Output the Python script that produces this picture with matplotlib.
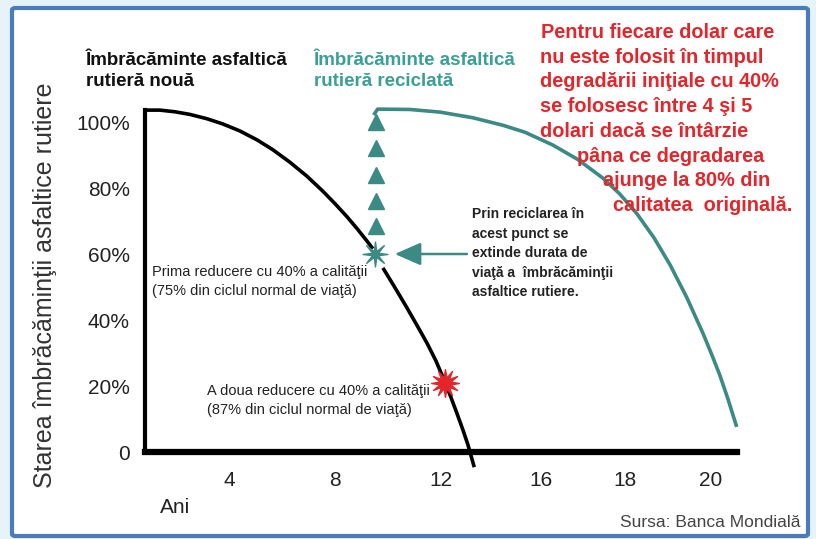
import numpy as np
import matplotlib
matplotlib.use('Agg')
import matplotlib.pyplot as plt
from matplotlib.patches import FancyBboxPatch
from matplotlib.path import Path

plt.rcParams['font.family'] = ['Liberation Sans', 'DejaVu Sans']

# date (ani, % stare)
ani_nou_sus = [0.84, 1.35, 1.92, 2.49, 3.13, 3.74, 4.38, 5.03, 5.63, 6.28,
               6.92, 7.53, 7.98, 8.44, 8.81, 9.19, 9.42]
stare_nou_sus = [103.6, 103.6, 103.1, 102.3, 101.0, 99.4, 97.3, 94.6, 91.6, 87.8,
                 83.6, 79.0, 75.3, 71.3, 67.8, 64.0, 61.6]
ani_nou_jos = [9.80, 10.25, 10.71, 11.09, 11.47, 11.81, 12.15, 12.38, 12.6,
               12.83, 13.02, 13.26]
stare_nou_jos = [55.8, 49.9, 43.7, 38.4, 33.0, 27.6, 21.2, 16.5, 11.8,
                 6.7, 2.2, -4.6]
ani_reciclat = [9.45, 9.6, 10.82, 11.96, 13.2, 14.35, 15.18, 16.24, 17.19, 18.13,
                18.77, 19.42, 20.06, 20.67, 21.31, 21.92, 22.26, 22.56, 22.87, 23.2]
stare_reciclat = [102.1, 103.9, 103.8, 103.0, 101.3, 99.0, 96.9, 93.0, 88.6, 83.0,
                  78.2, 72.2, 65.0, 56.8, 46.8, 36.0, 29.4, 23.3, 16.0, 7.6]
triunghiuri_an = 9.55
triunghiuri_stare = [68.5, 76.0, 84.0, 92.0, 100.0]
punct_reciclare = (9.5, 60)
punct_doi = (12.15, 21.0)

y_ticks = [0, 20, 40, 60, 80, 100]
y_labels = ['0', '20%', '40%', '60%', '80%', '100%']
x_labels = ['4', '8', '12', '16', '18', '20']
x_pos = [4, 8, 12, 15.8, 18.97, 22.2]

red_lines = ['Pentru fiecare dolar care', 'nu este folosit în timpul',
             'degradării iniţiale cu 40%', 'se folosesc între 4 şi 5',
             'dolari dacă se întârzie', 'pâna ce degradarea',
             'ajunge la 80% din', 'calitatea  originală.']
red_x = [541, 540, 540, 540, 540, 577, 603, 613]

W, H = 816, 539
teal = '#3b8a83'
red = '#e3262b'


def px(x, y):
    return x / W, 1 - y / H


fig = plt.figure(figsize=(W / 100, H / 100), dpi=100, facecolor='#e6f3f9')
frame = FancyBboxPatch(px(12, 536), (808 - 12) / W, (536 - 8) / H,
                       boxstyle='round,pad=0,rounding_size=0.004',
                       transform=fig.transFigure, facecolor='white',
                       edgecolor='#4a7cbc', lw=3, zorder=-1)
fig.patches.append(frame)

l, b = px(145, 478.4)
r, t = px(742, 102.2)
ax = fig.add_axes([l, b, r - l, t - b])
ax.set_facecolor('none')
ax.set_xlim(0.79, 23.4)
ax.set_ylim(-8, 106)

for s in ['top', 'right']:
    ax.spines[s].set_visible(False)
ax.spines['left'].set_linewidth(3)
ax.spines['left'].set_bounds(0, 103.6)
ax.spines['bottom'].set_position(('data', 0))
ax.spines['bottom'].set_linewidth(4.5)
ax.spines['bottom'].set_bounds(0.79, 23.2)

ax.set_yticks(y_ticks)
ax.set_yticklabels(y_labels)
ax.set_xticks(x_pos)
ax.set_xticklabels(x_labels)
ax.tick_params(axis='y', length=0, pad=11, labelsize=15, labelcolor='#222')
ax.tick_params(axis='x', length=0, pad=14, labelsize=15, labelcolor='#222')

stil = dict(lw=2.6, solid_capstyle='butt', solid_joinstyle='round')
ax.plot(ani_nou_sus, stare_nou_sus, color='black', **stil)
ax.plot(ani_nou_jos, stare_nou_jos, color='black', clip_on=False, **stil)
ax.plot(ani_reciclat, stare_reciclat, color=teal, **stil)

ax.plot([triunghiuri_an] * len(triunghiuri_stare), triunghiuri_stare, ls='none',
        marker='^', ms=12, color=teal)

stea_verde = Path.unit_regular_star(8, innerCircle=0.25)
stea_rosie = Path.unit_regular_star(12, innerCircle=0.4)
ax.plot(*punct_reciclare, marker=stea_verde, ms=18, color=teal, zorder=5)
ax.plot(*punct_doi, marker=stea_rosie, ms=20, color=red, zorder=5)

ax.annotate('', xy=(10.25, 60), xytext=(12.98, 60),
            arrowprops=dict(arrowstyle='-|>,head_length=1.6,head_width=0.7',
                            color=teal, lw=1.8, shrinkA=0, shrinkB=0))

# texte
fig.text(*px(45, 285), 'Starea îmbrăcăminţii asfaltice rutiere', rotation=90,
         ha='center', va='center', fontsize=18, color='#333')
fig.text(*px(160, 513), 'Ani', fontsize=15, color='#222', va='baseline')
fig.text(*px(801, 527), 'Sursa: Banca Mondială', fontsize=12.5, color='#444',
         ha='right', va='baseline')

fig.text(*px(86, 65), 'Îmbrăcăminte asfaltică', fontsize=13.5, weight='bold',
         color='#111', va='baseline')
fig.text(*px(86, 86), 'rutieră nouă', fontsize=13.5, weight='bold',
         color='#111', va='baseline')
fig.text(*px(314, 65), 'Îmbrăcăminte asfaltică', fontsize=13.5, weight='bold',
         color='#3aa096', va='baseline')
fig.text(*px(314, 86), 'rutieră reciclată', fontsize=13.5, weight='bold',
         color='#3aa096', va='baseline')

for i, (line, x) in enumerate(zip(red_lines, red_x)):
    fig.text(*px(x, 38 + 24.7 * i), line, fontsize=14.3, weight='bold',
             color=red, va='baseline')

fig.text(*px(152, 276), 'Prima reducere cu 40% a calităţii', fontsize=10.5,
         color='#222', va='baseline')
fig.text(*px(152, 295), '(75% din ciclul normal de viaţă)', fontsize=10.5,
         color='#222', va='baseline')
fig.text(*px(207, 395), 'A doua reducere cu 40% a calităţii', fontsize=10.5,
         color='#222', va='baseline')
fig.text(*px(207, 414), '(87% din ciclul normal de viaţă)', fontsize=10.5,
         color='#222', va='baseline')

bold_lines = ['Prin reciclarea în', 'acest punct se', 'extinde durata de',
              'viaţă a  îmbrăcăminţii', 'asfaltice rutiere.']
for i, line in enumerate(bold_lines):
    fig.text(*px(472, 218 + 19.5 * i), line, fontsize=10, weight='bold',
             color='#222', va='baseline')

fig.savefig('out.png', dpi=100, facecolor=fig.get_facecolor())
